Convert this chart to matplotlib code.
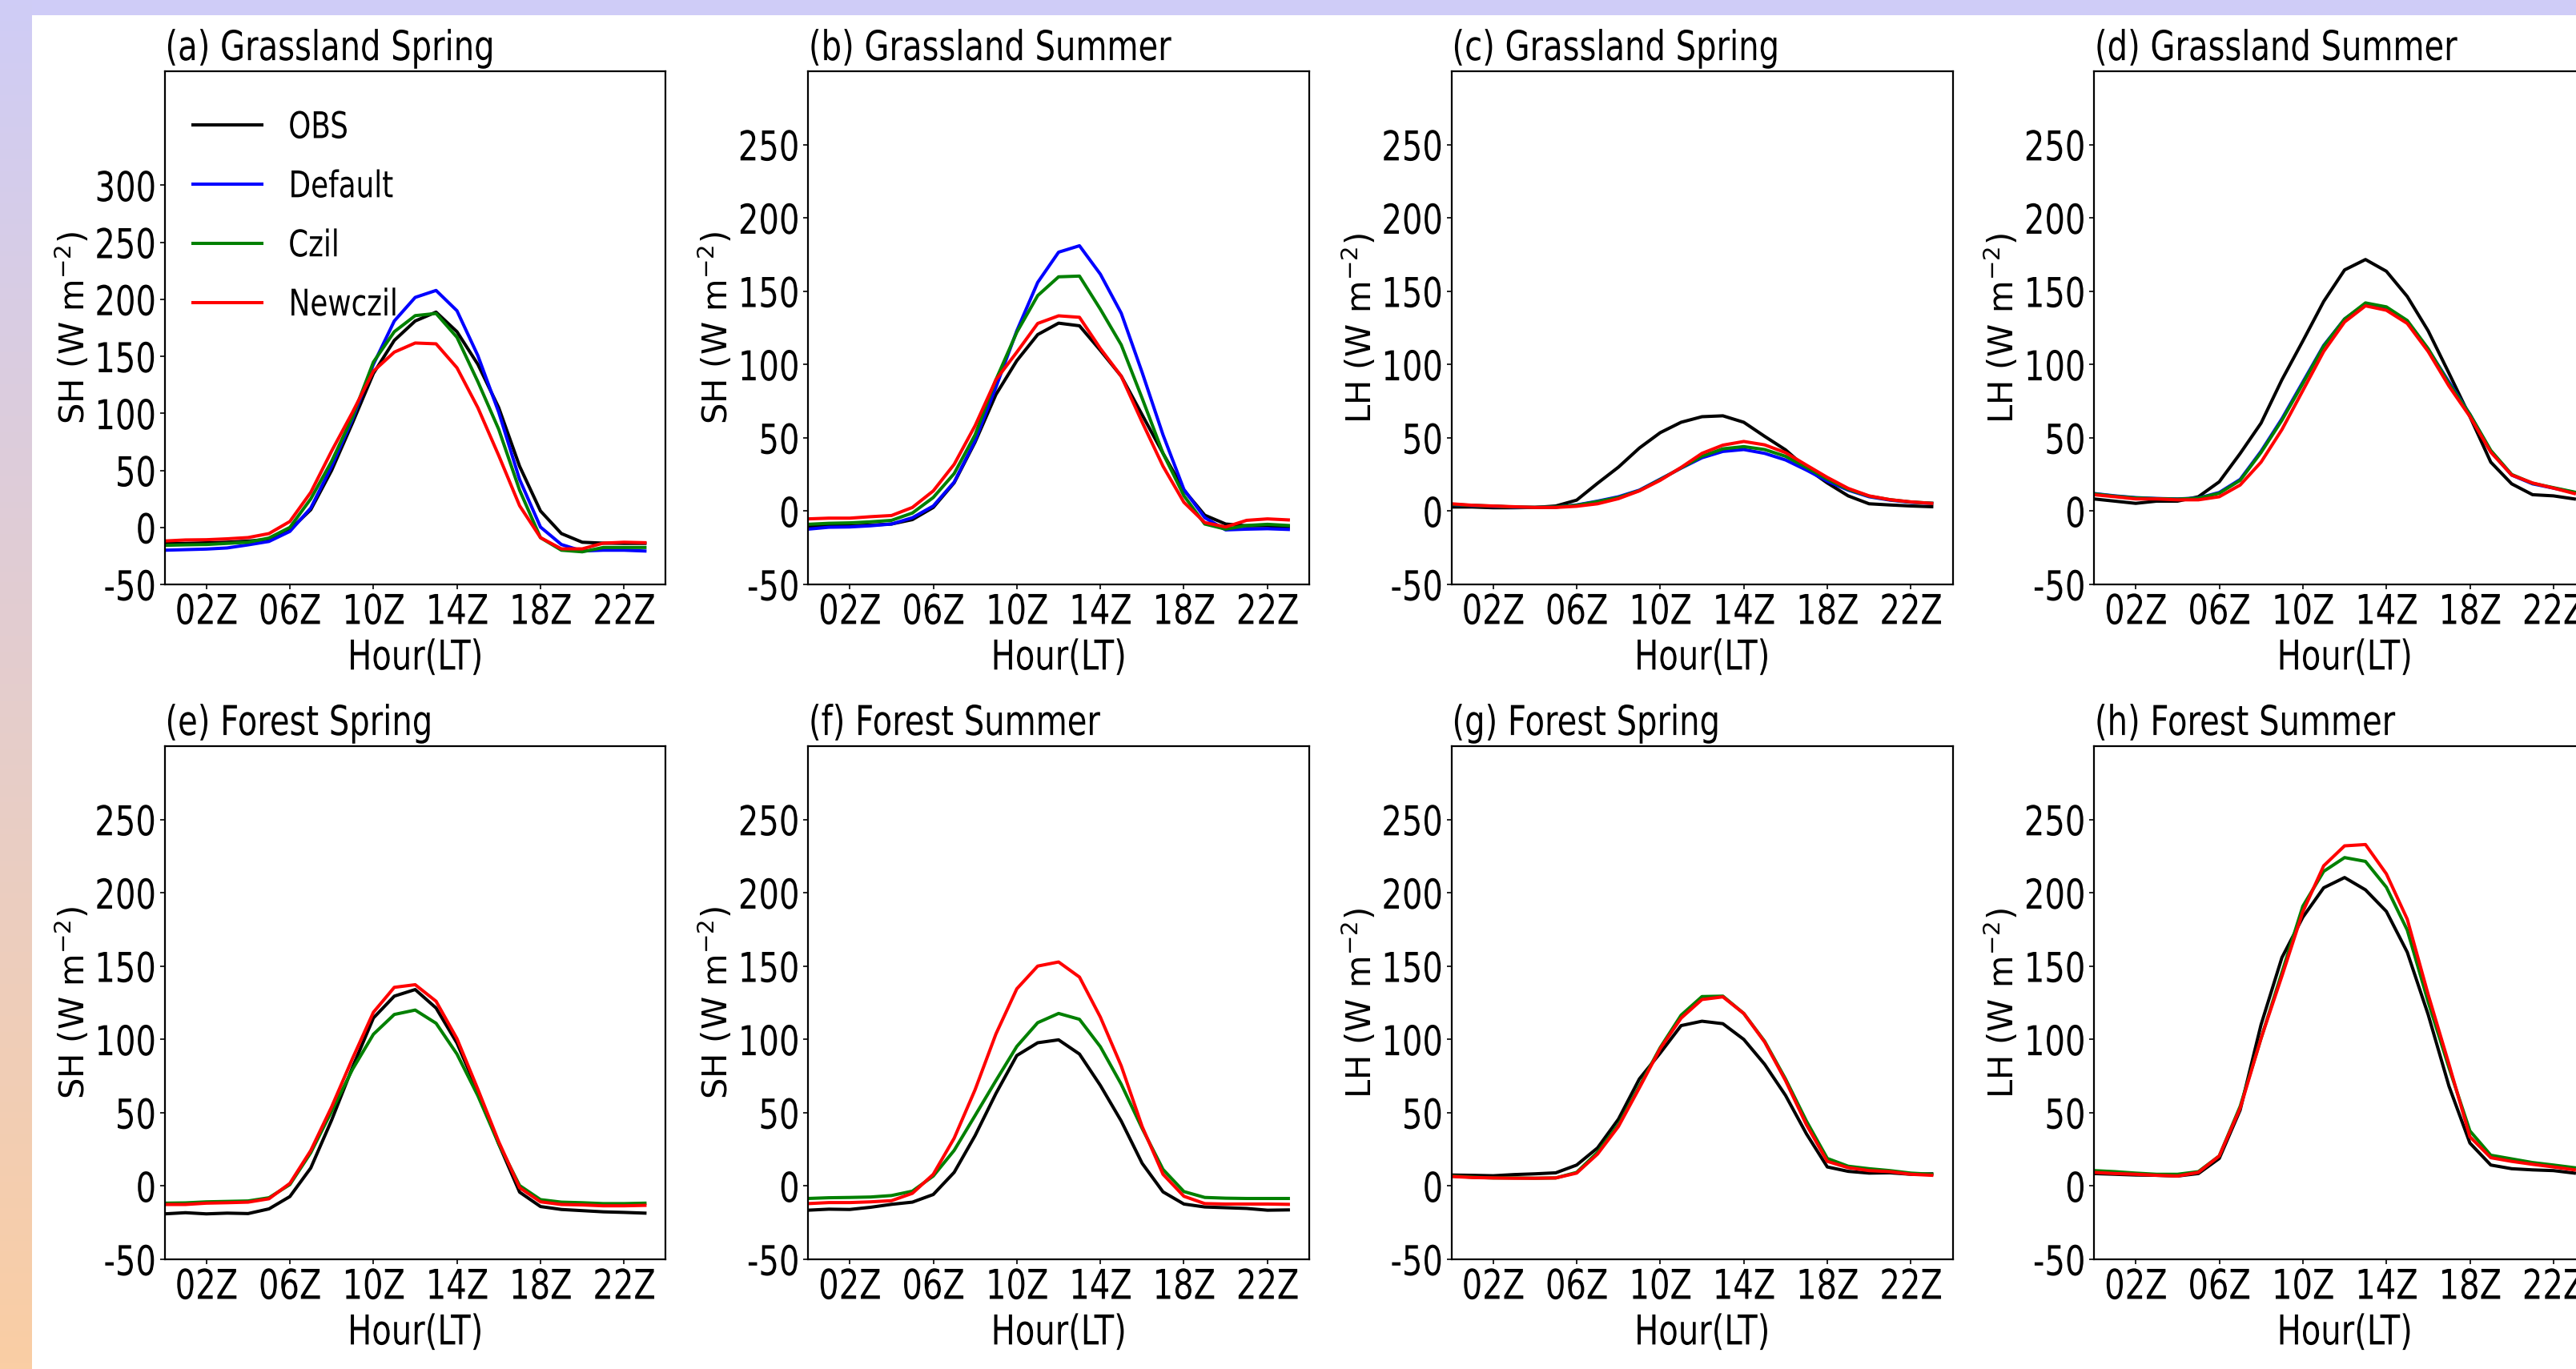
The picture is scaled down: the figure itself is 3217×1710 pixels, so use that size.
import matplotlib
matplotlib.use("Agg")
import matplotlib.pyplot as plt
from matplotlib.patheffects import AbstractPathEffect
from matplotlib.transforms import Affine2D
import numpy as np

plt.rcParams['font.family'] = ['DejaVu Sans']
plt.rcParams['axes.unicode_minus'] = False

hours = list(range(24))
tick_pos = [2, 6, 10, 14, 18, 22]
tick_lab = ['02Z', '06Z', '10Z', '14Z', '18Z', '22Z']

# (a) grassland spring SH
obs_a = [-14, -14, -13.5, -13, -12, -10.4, -2, 15.5, 50, 91.7, 135, 164, 181, 188.8, 171.6, 143, 105, 53.6, 14.4, -5.4, -13, -13.8, -14, -14]
default_a = [-20, -19.5, -19, -18, -15.3, -12.3, -3.5, 17, 53.6, 95, 143, 181, 201.7, 207.8, 190, 150.7, 101, 42, 0.3, -15, -20.7, -20, -20, -20.7]
czil_a = [-15.7, -15.3, -15, -14, -13, -9.3, 0, 25, 58, 97, 145, 171.6, 185.7, 187.6, 166.7, 127.8, 86, 32.6, -9, -20, -21.4, -17.6, -17.6, -17.6]
newczil_a = [-11.9, -11, -10.8, -10, -8.9, -5.4, 5.2, 30.7, 67, 101, 137, 153.7, 161.7, 161, 140, 105, 63, 19, -9, -18.8, -18.8, -13.8, -13, -13.4]

# (b) grassland summer SH
obs_b = [-10.8, -10, -10, -9.5, -8.8, -5.8, 2.5, 19.3, 47, 79.5, 102.6, 120.4, 128.2, 126.4, 109.6, 92, 65.7, 39.4, 14.3, -2.8, -8.8, -10, -10, -10.8]
default_b = [-12.3, -11, -10.8, -10, -8.8, -4.5, 3.5, 19.8, 48, 84.5, 123, 156, 176.6, 181, 161.6, 135, 94.6, 52, 14.8, -4.5, -12.8, -12.3, -12, -12.5]
czil_b = [-9, -8.3, -8, -7.3, -6.3, -1.3, 9.3, 25.6, 52, 89.6, 122, 147, 159.8, 160.3, 137.7, 113.4, 77, 39.4, 10.5, -8.8, -12.3, -9.8, -9, -9.8]
newczil_b = [-5.3, -4.8, -4.8, -3.8, -3, 2.5, 13.8, 31.9, 58.2, 89.6, 108.4, 128, 133.2, 132.2, 110.9, 92, 60.7, 30.6, 6, -7.8, -10.8, -6.3, -5.3, -6]

# (c) grassland spring LH
obs_c = [2.8, 2.8, 2.3, 2.3, 2.5, 3.5, 7.5, 19, 30, 43, 53.5, 60.6, 64.4, 65, 60.6, 51, 41.8, 29.3, 19.2, 10.4, 5, 4.2, 3.5, 3]
default_c = [4.5, 3.8, 3.3, 2.7, 2.5, 2.7, 4.2, 6.8, 9.8, 14.3, 21.8, 29.3, 36.4, 40.7, 42, 39.4, 34.9, 28, 20.5, 14.3, 9.8, 7.5, 6, 5.3]
czil_c = [4.6, 3.9, 3.4, 2.8, 2.6, 2.8, 4.0, 6.5, 9.3, 14, 21.5, 29.5, 37.4, 42.5, 44, 42, 37.4, 29.8, 21.8, 14.8, 10.2, 7.8, 6.2, 5.4]
newczil_c = [5, 4, 3.5, 3, 2.5, 2.5, 3.3, 5, 8.5, 13.8, 21, 29.8, 39.4, 45, 47.5, 45.2, 39.9, 31.4, 23, 15.5, 10.4, 7.8, 6.3, 5.3]

# (d) grassland summer LH
obs_d = [8.3, 6.8, 5.3, 6.8, 6.8, 9.8, 20, 39.3, 60, 89.6, 116, 143, 164.5, 171.6, 163.6, 146.4, 123, 94, 64.5, 33.4, 18.6, 11.2, 10.4, 8.3]
default_d = [12, 10.4, 9.2, 8.6, 8.3, 8.9, 12.7, 21.6, 40.8, 63, 88, 113, 131, 141.4, 138.5, 129.6, 110.4, 88, 66, 40.8, 24.6, 18.6, 15.7, 12.7]
czil_d = [11.8, 10.2, 9.0, 8.5, 8.2, 8.8, 12.2, 21, 40, 62, 87, 112.5, 131, 142, 139.3, 130, 110.8, 87, 66, 41.4, 25, 19, 16, 13]
newczil_d = [11.2, 9.8, 8.3, 8.3, 7.7, 7.7, 9.8, 17.8, 33.4, 55.6, 82.2, 108.9, 129, 140, 137, 128, 108.9, 85.2, 64.5, 40.2, 24.6, 19.2, 15.7, 12]

# (e) forest spring SH
obs_e = [-19, -18.2, -19, -18.5, -18.8, -15.6, -7.2, 12.3, 45, 81, 114.6, 129.5, 134, 121.4, 97.5, 64.6, 28.7, -4.2, -14, -16, -16.8, -17.6, -18, -18.5]
czil_e = [-11.7, -11.5, -10.8, -10.5, -10.2, -8, 1, 22.7, 51, 79.6, 103.5, 117, 120, 111, 90, 61.6, 28.7, 0.3, -9.3, -11, -11.4, -12, -12, -11.7]
newczil_e = [-12.6, -12.6, -11.7, -11.4, -11, -8.7, 1.8, 24.2, 54, 87, 118.5, 135.5, 137.3, 126, 100.5, 66, 30.2, -1.2, -10.8, -12.6, -12.9, -13.5, -13.5, -13.2]

# (f) forest summer SH
obs_f = [-16.5, -15.8, -16, -14.5, -12.5, -11, -5.8, 9.3, 34.3, 63.1, 89, 97.7, 99.7, 90, 68.6, 44.3, 15.5, -4, -12.3, -14.3, -14.8, -15.3, -16.5, -16.3]
czil_f = [-8.5, -8, -7.8, -7.5, -6.5, -3.5, 6.8, 24.3, 48, 71.9, 95.2, 111.4, 117.7, 113.7, 95, 69.4, 39.3, 11.3, -3.8, -7.8, -8.3, -8.5, -8.5, -8.5]
newczil_f = [-12, -11.3, -11.3, -10.8, -10, -5, 8, 32.6, 65.6, 103.7, 134.5, 150, 152.8, 142.5, 115.2, 81.9, 40.6, 8, -7, -12, -12.3, -12.3, -12.3, -12.5]

# (g) forest spring LH
obs_g = [7.5, 7.3, 7, 7.8, 8.3, 9, 14.3, 26, 45.6, 73, 90.7, 109.4, 112.4, 110.7, 100, 83, 61.8, 35.6, 13, 10, 8.8, 9, 8, 8.3]
czil_g = [6.8, 6, 5.5, 5.5, 5.3, 5.5, 9.3, 23, 41.8, 68, 94.4, 116.5, 129.2, 129.5, 117.7, 98.7, 73, 44.3, 18.8, 13.5, 11.8, 10.5, 8.8, 8]
newczil_g = [6.5, 5.8, 5.5, 5.3, 5.3, 5.5, 8.8, 21.8, 40.6, 66.9, 93.7, 114.5, 127.2, 129, 117.7, 98.2, 71.9, 41.8, 16.8, 12.5, 10.5, 9.8, 8, 7.3]

# (h) forest summer LH
obs_h = [8.5, 8, 7.5, 7.3, 6.8, 8.5, 18.8, 51.8, 110, 155.8, 183.3, 203.4, 210.4, 202, 187.3, 159.5, 117, 68, 29.3, 14.3, 11.8, 11, 10.5, 8.8]
czil_h = [10.5, 9.8, 8.8, 8, 8, 9.8, 20.5, 54.3, 100.7, 145.6, 190.8, 214.6, 224, 221.4, 203.8, 174.6, 125.7, 80.6, 37.6, 21, 18.5, 16, 14.3, 12.5]
newczil_h = [9.3, 8.5, 8, 7.3, 6.8, 9.3, 20.5, 53, 100.7, 143.2, 187, 218.4, 232, 232.9, 212.9, 182, 130.7, 83, 33.6, 19.3, 16.8, 14.8, 13, 11]

titles = ['(a) Grassland Spring', '(b) Grassland Summer', '(c) Grassland Spring', '(d) Grassland Summer',
          '(e) Forest Spring', '(f) Forest Summer', '(g) Forest Spring', '(h) Forest Summer']
ylabels = ['SH (W m$^{-2}$)', 'SH (W m$^{-2}$)', 'LH (W m$^{-2}$)', 'LH (W m$^{-2}$)'] * 2

panels = [
    [obs_a, default_a, czil_a, newczil_a],
    [obs_b, default_b, czil_b, newczil_b],
    [obs_c, default_c, czil_c, newczil_c],
    [obs_d, default_d, czil_d, newczil_d],
    [obs_e, None, czil_e, newczil_e],
    [obs_f, None, czil_f, newczil_f],
    [obs_g, None, czil_g, newczil_g],
    [obs_h, None, czil_h, newczil_h],
]
names = ['OBS', 'Default', 'Czil', 'Newczil']
colors = ['black', 'blue', 'green', 'red']

SQ = 0.78   # the reference text is horizontally condensed by about this much
FS = 37


class Squish(AbstractPathEffect):
    """draw the text narrower, keeping its left / centre / right edge"""
    def __init__(self, sx=SQ, anchor='center'):
        super().__init__()
        self.sx = sx
        self.anchor = anchor

    def draw_path(self, renderer, gc, tpath, affine, rgbFace=None):
        ext = tpath.get_extents(affine)
        if self.anchor == 'left':
            x0 = ext.x0
        elif self.anchor == 'right':
            x0 = ext.x1
        else:
            x0 = 0.5 * (ext.x0 + ext.x1)
        t = affine + Affine2D().translate(-x0, 0).scale(self.sx, 1).translate(x0, 0)
        renderer.draw_path(gc, tpath, t, rgbFace)


class Tall(AbstractPathEffect):
    """small font drawn taller about its baseline (same look, narrow layout box)"""
    def __init__(self, sy=1 / SQ, dy=0.0):
        super().__init__()
        self.sy = sy
        self.dy = dy

    def draw_path(self, renderer, gc, tpath, affine, rgbFace=None):
        y0 = affine.transform_point((0, 0))[1]
        t = affine + Affine2D().translate(0, -y0).scale(1, self.sy).translate(0, y0 + self.dy)
        renderer.draw_path(gc, tpath, t, rgbFace)


W, H = 3217, 1710
fig = plt.figure(figsize=(W / 100, H / 100), dpi=100)

# coloured frame: lavender band on top, lavender->peach strip on the left
band = fig.add_axes([0, 1 - 19 / H, 1, 19 / H])
band.set_axis_off()
band.add_patch(plt.Rectangle((0, 0), 1, 1, color='#cfccf7', transform=band.transAxes))
strip = fig.add_axes([0, 0, 40 / W, 1])
top = np.array([207, 204, 246]) / 255
bot = np.array([250, 206, 164]) / 255
t = np.linspace(0, 1, 256)[:, None]
grad = (top * (1 - t) + bot * t)[:, None, :]
strip.imshow(grad, aspect='auto', extent=[0, 1, 0, 1])
strip.set_axis_off()

lefts = [205.5, 1009, 1812.5, 2615]
tops = [89, 932]
aw, ah = 626, 641

for i in range(8):
    r, c = divmod(i, 4)
    ax = fig.add_axes([lefts[c] / W, 1 - (tops[r] + ah) / H, aw / W, ah / H])
    for k in range(4):
        data = panels[i][k]
        if data is None:
            continue
        ax.plot(hours, data, color=colors[k], lw=2.9, label=names[k])
    ax.set_xlim(0, 24)
    ax.set_xticks(tick_pos)
    ax.set_xticklabels(tick_lab)
    if i == 0:
        ax.set_ylim(-50, 400)
        ax.set_yticks(np.arange(-50, 301, 50))
        leg = ax.legend(loc='upper left', bbox_to_anchor=(0.028, 0.953), borderaxespad=0,
                        frameon=False, fontsize=33, handlelength=1.86, handletextpad=0.72,
                        labelspacing=0.63)
        for txt in leg.get_texts():
            txt.set_path_effects([Squish(anchor='left')])
    else:
        ax.set_ylim(-50, 300)
        ax.set_yticks(np.arange(-50, 251, 50))
    ax.tick_params(width=1.2, length=4)
    ax.tick_params(axis='x', labelsize=FS)
    ax.tick_params(axis='y', labelsize=FS * SQ)
    for s in ax.spines.values():
        s.set_linewidth(1.6)
    for lab in ax.get_xticklabels():
        lab.set_path_effects([Squish(anchor='center')])
    for lab in ax.get_yticklabels():
        lab.set_path_effects([Tall(dy=-4.3)])
    ttl = ax.set_title(titles[i], loc='left', fontsize=FS, pad=10)
    ttl.set_path_effects([Squish(anchor='left')])
    xl = ax.set_xlabel('Hour(LT)', fontsize=FS, labelpad=5)
    xl.set_path_effects([Squish(anchor='center')])
    ax.set_ylabel(ylabels[i], fontsize=30)
    ax.yaxis.set_label_coords(-0.145, 0.5)

fig.savefig('out.png', dpi=100)
